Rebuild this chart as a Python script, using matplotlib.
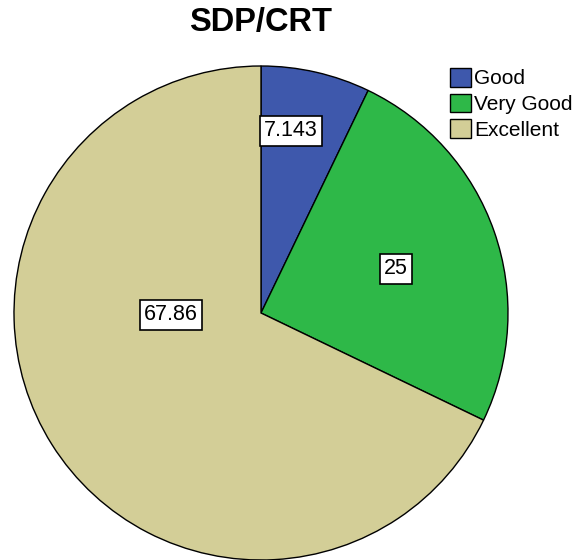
import matplotlib
matplotlib.use('Agg')
import matplotlib.pyplot as plt
from matplotlib.patches import Patch

# data
categories = ['Good', 'Very Good', 'Excellent']
values = [7.143, 25, 67.86]
value_labels = ['7.143', '25', '67.86']
colors = ['#3E58AC', '#2EB848', '#D3CE97']

plt.rcParams['font.family'] = ['Liberation Sans', 'DejaVu Sans']

fig = plt.figure(figsize=(5.86, 5.60), dpi=100)
ax = fig.add_axes([0, 0, 1, 1])

wedges, _ = ax.pie(values, colors=colors, startangle=90, counterclock=False,
                   center=(261, 247), radius=247, frame=True,
                   wedgeprops=dict(edgecolor='black', linewidth=1.0))
ax.set_xlim(0, 586)
ax.set_ylim(0, 560)
ax.axis('off')

# label spots (pixels from top-left)
label_pos = [(291, 131), (396, 269), (171, 315)]
for txt, (x, y) in zip(value_labels, label_pos):
    ax.text(x, 560 - y, txt, ha='center', va='center', fontsize=15.5,
            bbox=dict(boxstyle='square,pad=0.2', facecolor='white',
                      edgecolor='black', linewidth=1.2))

ax.text(261, 560 - 23, 'SDP/CRT', ha='center', va='center',
        fontsize=23.5, fontweight='bold')

handles = [Patch(facecolor=c, edgecolor='black', label=l)
           for c, l in zip(colors, categories)]
leg = fig.legend(handles=handles, loc='upper left', bbox_to_anchor=(450 / 586, 1 - 68 / 560),
                 frameon=False, fontsize=15, handlelength=1.0, handleheight=1.0,
                 handletextpad=0.15, labelspacing=0.25, borderaxespad=0, borderpad=0)

fig.savefig('out.png', dpi=100)
